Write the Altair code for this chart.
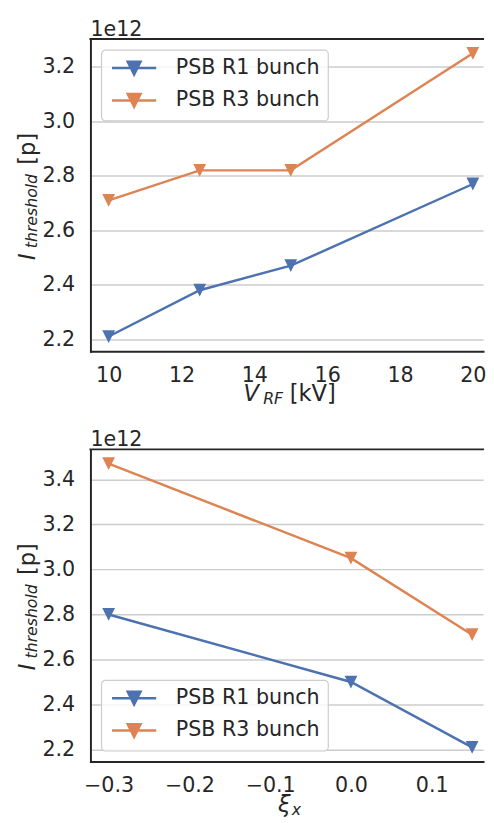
import altair as alt
import pandas as pd

# ---- data (intensities in units of 1e12 protons) ----
series = ["PSB R1 bunch", "PSB R3 bunch"]
colors = ["#4c72b0", "#dd8452"]

v_rf = [10, 12.5, 15, 20]
r1_vrf = [2.21, 2.38, 2.47, 2.77]
r3_vrf = [2.71, 2.82, 2.82, 3.25]

xi_x = [-0.3, 0.0, 0.15]
r1_xi = [2.80, 2.50, 2.21]
r3_xi = [3.47, 3.05, 2.71]

top_xticks = [10, 12, 14, 16, 18, 20]
top_yticks = [2.2, 2.4, 2.6, 2.8, 3.0, 3.2]
bot_xticks = [-0.3, -0.2, -0.1, 0.0, 0.1]
bot_yticks = [2.2, 2.4, 2.6, 2.8, 3.0, 3.2, 3.4]

W = 400
H1, H2 = 318, 318
INK = "#262626"
FONT = "DejaVu Sans"
TRI = "M-1,-1L1,-1L0,1Z"
LEG_SYM = "M-1,0L5,0M1.13,-0.87L2.87,-0.87L2,0.87Z"
TICK_FS = 21
LAB_FS = 23
SUB_FS = 16


def frame(xs, r1, r3):
    return pd.DataFrame({
        "x": list(xs) + list(xs),
        "y": list(r1) + list(r3),
        "s": [series[0]] * len(xs) + [series[1]] * len(xs),
    })


def text(txt, x, y, size, italic=False, angle=0):
    return alt.Chart(pd.DataFrame({"t": [txt]})).mark_text(
        align="left", baseline="alphabetic", angle=angle, fontSize=size,
        font=FONT, fontStyle="italic" if italic else "normal", color=INK,
    ).encode(x=alt.value(x), y=alt.value(y), text="t:N")


def panel(df, H, xdom, xticks, xfmt, ydom, yticks, legend_orient, xtitle_parts):
    legend = alt.Legend(
        title=None, orient=legend_orient, offset=11, symbolType=LEG_SYM,
        symbolSize=225, symbolStrokeWidth=2.5, labelFontSize=TICK_FS,
        labelColor=INK, labelFont=FONT, labelOffset=47, padding=8,
        rowPadding=8, fillColor="rgba(255,255,255,0.8)",
        strokeColor="#cccccc", cornerRadius=4,
    )
    color = alt.Color("s:N", scale=alt.Scale(domain=series, range=colors), legend=legend)
    y = alt.Y("y:Q", scale=alt.Scale(domain=ydom, nice=False, zero=False),
              axis=alt.Axis(values=yticks, format=".1f", title=None, grid=True,
                            tickSize=0, labelPadding=16))
    xb = alt.X("x:Q", scale=alt.Scale(domain=xdom, nice=False, zero=False),
               axis=alt.Axis(values=xticks, format=xfmt, title=None, grid=False,
                             tickSize=0, labelPadding=14, orient="bottom"))
    line = alt.Chart(df).mark_line(strokeWidth=2.5).encode(x=xb, y=y, color=color)
    pts = alt.Chart(df).mark_point(shape=TRI, size=169, filled=True, opacity=1).encode(
        x="x:Q", y=y, color=color)
    top_spine = alt.Chart(pd.DataFrame({"t": [0]})).mark_rule(
        color=INK, strokeWidth=2, strokeCap="square").encode(
        x=alt.value(0), x2=alt.value(W), y=alt.value(0))
    c = H / 2
    labels = [
        text("1e12", 0, -3, TICK_FS),
        text("I", -57, c + 66, LAB_FS, italic=True, angle=270),
        text("threshold", -54, c + 54, SUB_FS, italic=True, angle=270),
        text("[p]", -57, c - 31, LAB_FS, angle=270),
    ] + [text(t, x, H + dy, fs, it) for (t, x, dy, fs, it) in xtitle_parts]
    return alt.layer(line, pts, top_spine, *labels).properties(width=W, height=H)


top = panel(frame(v_rf, r1_vrf, r3_vrf), H1, [9.5, 20.28], top_xticks, "d",
            [2.156, 3.302], top_yticks, "top-left",
            [("V", 156, 51, LAB_FS, True), ("RF", 176, 54, SUB_FS, True),
             ("[kV]", 203, 51, LAB_FS, False)])
bot = panel(frame(xi_x, r1_xi, r3_xi), H2, [-0.3225, 0.1635], bot_xticks, ".1f",
            [2.147, 3.533], bot_yticks, "bottom-left",
            [("ξ", 191, 51, LAB_FS, True), ("x", 205, 54, SUB_FS, True)])

chart = alt.vconcat(top, bot, spacing=23).properties(
    padding={"left": 9, "top": 4, "right": 0, "bottom": 0}
).configure_view(stroke=None).configure_axis(
    labelFont=FONT, labelFontSize=TICK_FS, labelColor=INK, domainColor=INK,
    domainWidth=2, domainCap="square", gridColor="#cccccc", gridWidth=1.5,
    labelOverlap=False, labelFlush=False,
).configure_legend(strokeWidth=1.2)

chart.save("out.html", embed_options={"renderer": "svg", "actions": False})
